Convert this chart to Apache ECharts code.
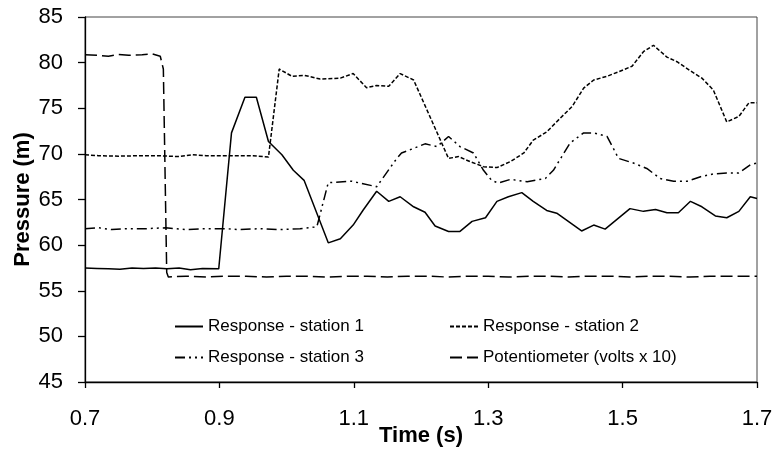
<!DOCTYPE html>
<html>
<head>
<meta charset="utf-8">
<script src="https://cdn.jsdelivr.net/npm/echarts@6/dist/echarts.min.js"></script>
<style>
  html, body { margin: 0; padding: 0; background: #fff; }
  #chart { width: 774px; height: 450px; }
</style>
</head>
<body>
<div id="chart"></div>
<script>
// pressure readings, time in seconds
var s1Time = [0.700, 0.718, 0.735, 0.752, 0.770, 0.787, 0.805, 0.822, 0.840, 0.857, 0.875, 0.899,
    0.918, 0.938, 0.955, 0.973, 0.993, 1.010, 1.026, 1.062, 1.080, 1.099, 1.114, 1.134, 1.152,
    1.169, 1.189, 1.206, 1.221, 1.241, 1.258, 1.276, 1.296, 1.313, 1.330, 1.350, 1.367, 1.387,
    1.402, 1.439, 1.457, 1.474, 1.511, 1.531, 1.549, 1.566, 1.583, 1.601, 1.618, 1.638, 1.655,
    1.673, 1.690, 1.700];
var s1Val = [57.5, 57.45, 57.4, 57.35, 57.5, 57.45, 57.5, 57.4, 57.5, 57.3, 57.45, 57.4,
    72.3, 76.2, 76.2, 71.35, 69.9, 68.2, 67.1, 60.25, 60.7, 62.2, 63.85, 65.9, 64.8,
    65.3, 64.2, 63.6, 62.1, 61.5, 61.5, 62.6, 63.0, 64.8, 65.3, 65.75, 64.8, 63.8,
    63.5, 61.55, 62.2, 61.75, 64.0, 63.7, 63.9, 63.55, 63.55, 64.8, 64.2, 63.2, 63.0,
    63.7, 65.3, 65.1];

var s2Time = [0.700, 0.720, 0.750, 0.780, 0.810, 0.840, 0.860, 0.880, 0.920, 0.950, 0.973, 0.989,
    1.008, 1.027, 1.050, 1.080, 1.099, 1.119, 1.134, 1.152, 1.169, 1.189, 1.241, 1.256, 1.273,
    1.293, 1.313, 1.333, 1.353, 1.367, 1.387, 1.407, 1.425, 1.442, 1.457, 1.477, 1.494, 1.514,
    1.531, 1.546, 1.566, 1.581, 1.601, 1.618, 1.635, 1.655, 1.673, 1.688, 1.700];
var s2Val = [69.9, 69.8, 69.75, 69.8, 69.8, 69.7, 69.9, 69.8, 69.8, 69.8, 69.65, 79.3,
    78.5, 78.6, 78.2, 78.3, 78.8, 77.25, 77.5, 77.4, 78.8, 78.1, 69.5, 69.7, 69.15,
    68.6, 68.5, 69.15, 70.1, 71.5, 72.4, 73.9, 75.2, 77.2, 78.1, 78.5, 79.0, 79.6,
    81.2, 81.9, 80.6, 80.1, 79.1, 78.3, 77.0, 73.5, 74.1, 75.6, 75.6];

var s3Time = [0.700, 0.720, 0.740, 0.760, 0.790, 0.820, 0.850, 0.880, 0.910, 0.930, 0.960, 0.990,
    1.020, 1.045, 1.062, 1.097, 1.134, 1.164, 1.171, 1.189, 1.206, 1.224, 1.241, 1.258, 1.278,
    1.293, 1.305, 1.315, 1.333, 1.358, 1.385, 1.397, 1.422, 1.442, 1.457, 1.477, 1.494, 1.516,
    1.536, 1.556, 1.576, 1.596, 1.616, 1.635, 1.655, 1.673, 1.690, 1.700];
var s3Val = [61.8, 61.9, 61.7, 61.8, 61.8, 61.9, 61.7, 61.8, 61.8, 61.7, 61.8, 61.7,
    61.8, 62.0, 66.85, 67.0, 66.4, 69.5, 70.1, 70.6, 71.1, 70.8, 71.9, 70.8, 70.1,
    68.2, 67.1, 66.8, 67.2, 66.95, 67.3, 68.2, 71.2, 72.3, 72.3, 71.9, 69.5, 69.0,
    68.4, 67.3, 67.0, 67.0, 67.5, 67.8, 67.9, 67.9, 68.8, 69.0];

var potTime = [0.700, 0.720, 0.735, 0.750, 0.765, 0.785, 0.800, 0.812, 0.8166, 0.8216, 0.824,
    0.850, 0.880, 0.910, 0.940, 0.970, 1.000, 1.030, 1.060, 1.090, 1.120, 1.150, 1.180, 1.210,
    1.240, 1.270, 1.300, 1.330, 1.360, 1.390, 1.420, 1.450, 1.480, 1.510, 1.540, 1.570, 1.600,
    1.630, 1.660, 1.700];
var potVal = [80.85, 80.8, 80.7, 80.9, 80.8, 80.85, 80.95, 80.7, 79.3, 57.0, 56.5,
    56.6, 56.5, 56.6, 56.6, 56.5, 56.6, 56.6, 56.5, 56.6, 56.6, 56.5, 56.6, 56.6,
    56.5, 56.6, 56.6, 56.5, 56.6, 56.6, 56.5, 56.6, 56.6, 56.5, 56.6, 56.6, 56.5,
    56.6, 56.6, 56.6];

var xTicks = [0.7, 0.9, 1.1, 1.3, 1.5, 1.7];
var names = ['Response - station 1', 'Response - station 2', 'Response - station 3', 'Potentiometer (volts x 10)'];

var FONT = '"Liberation Sans", Arial, sans-serif';

function pairs(t, v) {
    var out = [];
    for (var i = 0; i < t.length; i++) out.push([t[i], v[i]]);
    return out;
}

function legendAt(name, left, top) {
    return {
        data: [name],
        left: left,
        top: top,
        padding: 0,
        itemWidth: 28,
        itemHeight: 12,
        itemStyle: { opacity: 0 },
        textStyle: { fontFamily: FONT, fontSize: 17, color: '#000' }
    };
}

var chart = echarts.init(document.getElementById('chart'));

var option = {
    animation: false,
    backgroundColor: '#fff',
    grid: {
        left: 85, top: 17, width: 672, height: 365,
        outerBoundsMode: 'none',
        containLabel: false,
        show: true, borderColor: '#444', borderWidth: 1
    },
    legend: [
        legendAt(names[0], 174, 318),
        legendAt(names[1], 449, 318),
        legendAt(names[2], 174, 349),
        legendAt(names[3], 449, 349)
    ],
    xAxis: {
        type: 'value',
        min: 0.7, max: 1.7,
        name: 'Time (s)',
        nameLocation: 'middle',
        nameGap: 43,
        nameMoveOverlap: false,
        nameTextStyle: { fontFamily: FONT, fontSize: 22, fontWeight: 'bold', color: '#000' },
        axisLine: { lineStyle: { color: '#000', width: 1.3 } },
        axisTick: { show: true, length: 6, customValues: xTicks, lineStyle: { color: '#000', width: 1.3 } },
        axisLabel: {
            customValues: xTicks,
            margin: 26,
            fontFamily: FONT, fontSize: 22, color: '#000',
            formatter: function (v) { return v.toFixed(1); }
        },
        splitLine: { show: false }
    },
    yAxis: {
        type: 'value',
        min: 45, max: 85, interval: 5,
        name: 'Pressure (m)',
        nameLocation: 'middle',
        nameRotate: 90,
        nameGap: 51,
        nameMoveOverlap: false,
        nameTextStyle: { fontFamily: FONT, fontSize: 22, fontWeight: 'bold', color: '#000' },
        axisLine: { show: true, lineStyle: { color: '#000', width: 1.3 } },
        axisTick: { show: true, length: 7, lineStyle: { color: '#000', width: 1.3 } },
        axisLabel: { margin: 22, fontFamily: FONT, fontSize: 22, color: '#000' },
        splitLine: { show: false }
    },
    series: [{
        name: names[0],
        type: 'line',
        data: pairs(s1Time, s1Val),
        symbol: 'none',
        lineStyle: { color: '#000', width: 1.5, type: 'solid' },
        itemStyle: { color: '#000' }
    }, {
        name: names[1],
        type: 'line',
        data: pairs(s2Time, s2Val),
        symbol: 'none',
        lineStyle: { color: '#000', width: 1.5, type: [4, 2] },
        itemStyle: { color: '#000' }
    }, {
        name: names[2],
        type: 'line',
        data: pairs(s3Time, s3Val),
        symbol: 'none',
        lineStyle: { color: '#000', width: 1.5, type: [10, 4, 2, 4, 2, 4] },
        itemStyle: { color: '#000' }
    }, {
        name: names[3],
        type: 'line',
        data: pairs(potTime, potVal),
        symbol: 'none',
        lineStyle: { color: '#000', width: 1.5, type: [12, 5] },
        itemStyle: { color: '#000' }
    }]
};

chart.setOption(option);
</script>
</body>
</html>
